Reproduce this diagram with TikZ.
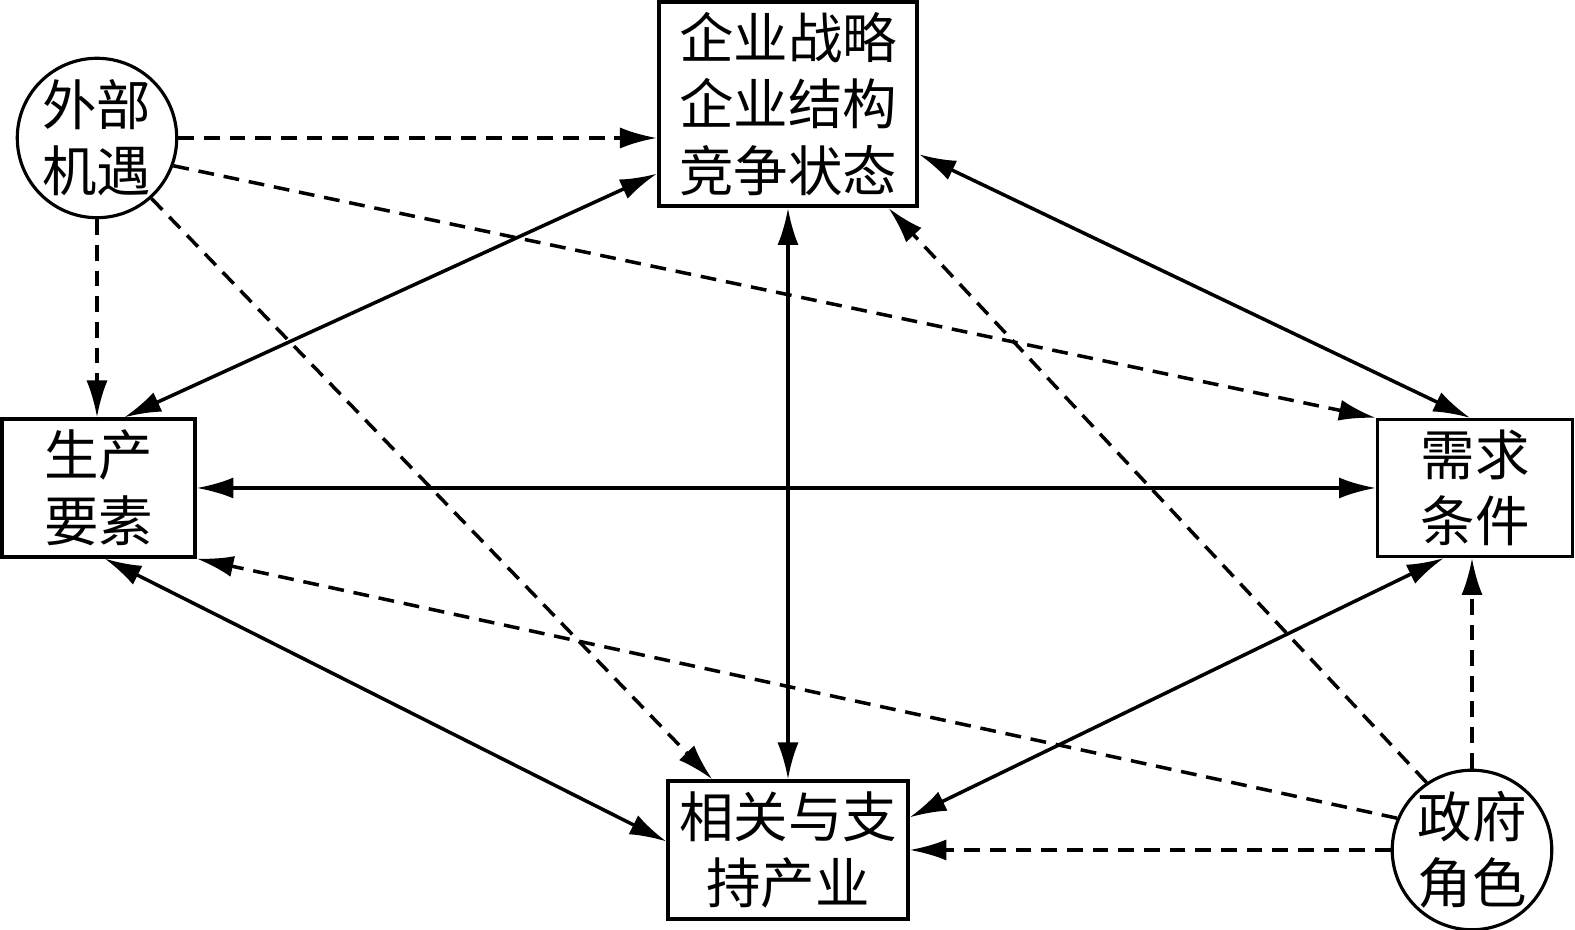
\documentclass[tikz,border=0pt]{standalone}
\usepackage{fontspec}
\newfontfamily\cjk{Noto Sans CJK SC}
\usetikzlibrary{arrows.meta}

\begin{document}
\begin{tikzpicture}[
    every node/.style = {align=center, inner sep=0pt, font=\cjk\fontsize{15.5pt}{18.8pt}\selectfont},
    box/.style = {draw, line width=0.9pt},
    ring/.style = {draw, circle, line width=0.9pt, minimum size=1.56cm},
    link/.style = {line width=1pt, {Latex[length=10.5pt,width=6pt]}-{Latex[length=10.5pt,width=6pt]}},
    hint/.style = {line width=1pt, dash pattern=on 4.5pt off 2.8pt, -{Latex[length=10.5pt,width=6pt]}}
]
\useasboundingbox (0, 0) rectangle (15.75, 9.3);

\node[box, line width=1.2pt, minimum width=2.58cm, minimum height=2.04cm] (strat) at (7.88, 8.26) {企业战略\\企业结构\\竞争状态};
\node[ring] (chance) at (0.97, 7.92) {外部\\机遇};
\node[box, minimum width=1.93cm, minimum height=1.38cm] (factor) at (0.985, 4.42) {生产\\要素};
\node[box, minimum width=1.95cm, minimum height=1.37cm] (demand) at (14.75, 4.42) {需求\\条件};
\node[box, minimum width=2.40cm, minimum height=1.38cm] (related) at (7.88, 0.80) {相关与支\\持产业};
\node[ring] (gov) at (14.72, 0.80) {政府\\角色};

% solid links
\draw[link] (strat.south) -- (related.north);
\draw[link] (strat.208) -- (factor.70);
\draw[link] (strat.339) -- (demand.94);
\draw[link] (factor.east) -- (demand.west);
\draw[link] (factor.275) -- (related.176);
\draw[link] (demand.246) -- (related.15);

% dashed influences
\draw[hint] (chance.east) -- (chance.east -| strat.west);
\draw[hint] (chance.340) -- (demand.north west);
\draw[hint] (chance.312) -- (related.137);
\draw[hint] (chance.south) -- (chance.south |- factor.north);
\draw[hint] (gov.124) -- (strat.314);
\draw[hint] (gov.157) -- (factor.south east);
\draw[hint] (gov.west) -- (gov.west -| related.east);
\draw[hint] (gov.north) -- (gov.north |- demand.south);
\end{tikzpicture}
\end{document}
